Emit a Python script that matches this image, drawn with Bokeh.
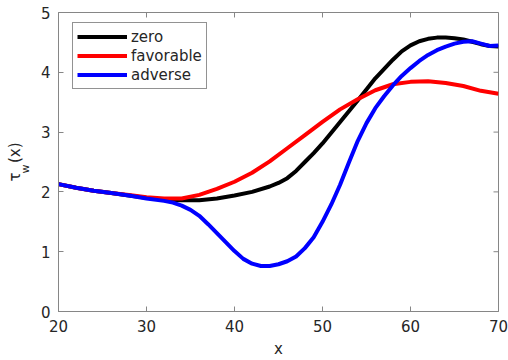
import numpy as np
from bokeh.plotting import figure
from bokeh.models import Range1d, Legend, LegendItem, LinearAxis, FixedTicker
from bokeh.embed import file_html
from bokeh.resources import INLINE

# ---- data ----
x_zero = [20, 22, 24, 26, 28, 30, 32, 34, 36, 38, 40, 42, 44, 45, 46, 47, 48, 49, 50, 52, 54, 56, 58, 59,
          60, 61, 62, 63, 64, 65, 66, 67, 68, 69, 70]
y_zero = [2.13, 2.07, 2.02, 1.98, 1.94, 1.90, 1.87, 1.86, 1.86, 1.89, 1.94, 2.00, 2.09, 2.15, 2.23, 2.35,
          2.50, 2.65, 2.81, 3.17, 3.53, 3.90, 4.21, 4.35, 4.45, 4.52, 4.56, 4.58, 4.58, 4.57, 4.55, 4.51,
          4.47, 4.44, 4.43]

x_fav = [20, 22, 24, 26, 28, 30, 32, 34, 36, 38, 40, 42, 44, 46, 48, 50, 52, 54, 56, 58, 60, 62, 64, 66, 68, 70]
y_fav = [2.13, 2.07, 2.02, 1.98, 1.95, 1.91, 1.89, 1.89, 1.95, 2.05, 2.17, 2.32, 2.51, 2.73, 2.95, 3.17,
         3.38, 3.55, 3.70, 3.80, 3.84, 3.85, 3.82, 3.77, 3.69, 3.64]

x_adv = [20, 22, 24, 26, 28, 30, 32, 33, 34, 35, 36, 37, 38, 39, 40, 41, 42, 43, 44, 45, 46, 47, 48, 49, 50,
         51, 52, 53, 54, 55, 56, 57, 58, 59, 60, 61, 62, 63, 64, 65, 66, 67, 68, 69, 70]
y_adv = [2.13, 2.07, 2.02, 1.98, 1.94, 1.89, 1.85, 1.82, 1.77, 1.70, 1.60, 1.46, 1.31, 1.16, 1.01, 0.88,
         0.80, 0.76, 0.76, 0.79, 0.84, 0.92, 1.06, 1.24, 1.50, 1.79, 2.12, 2.49, 2.85, 3.15, 3.40, 3.60,
         3.78, 3.94, 4.07, 4.19, 4.29, 4.37, 4.43, 4.48, 4.51, 4.52, 4.48, 4.44, 4.45]

series_names = ["zero", "favorable", "adverse"]
series_colors = ["#000000", "#ff0000", "#0000ff"]

x_ticks = [20, 30, 40, 50, 60, 70]
y_ticks = [0, 1, 2, 3, 4, 5]

NB = "\u00a0"
y_title_main = "τ" + NB * 2 + "(x)"   # tau ... (x)
y_title_sub = "w" + NB * 4             # subscript w
x_title = "x"

FONT = "DejaVu Sans"
AX = "#868686"
TXT = "#262626"

p = figure(width=508, height=360, output_backend="svg", toolbar_location=None,
           x_range=Range1d(20, 70), y_range=Range1d(0, 5),
           min_border_left=58, min_border_right=10, min_border_top=12, min_border_bottom=48)
p.grid.visible = False
p.outline_line_color = AX
p.background_fill_color = "white"
p.border_fill_color = "white"

for ax in [p.xaxis[0], p.yaxis[0]]:
    ax.major_tick_in = 5
    ax.major_tick_out = 0
    ax.minor_tick_in = 0
    ax.minor_tick_out = 0
    ax.axis_line_color = AX
    ax.major_tick_line_color = AX
    ax.major_label_text_font = FONT
    ax.major_label_text_font_size = "15px"
    ax.major_label_text_color = TXT
    ax.axis_label_text_font = FONT
    ax.axis_label_text_font_style = "normal"
    ax.axis_label_text_color = TXT
p.xaxis[0].ticker = FixedTicker(ticks=x_ticks)
p.yaxis[0].ticker = FixedTicker(ticks=y_ticks)
p.xaxis[0].major_label_standoff = 8
p.yaxis[0].major_label_standoff = 8
p.xaxis[0].axis_label = x_title
p.xaxis[0].axis_label_text_font_size = "15px"
p.xaxis[0].axis_label_standoff = 5
p.yaxis[0].axis_label = y_title_sub
p.yaxis[0].axis_label_text_font_size = "11px"
p.yaxis[0].axis_label_standoff = 6

# outer left axis carrying only the main part of the y title
y2 = LinearAxis(ticker=FixedTicker(ticks=[]), axis_line_color=None,
                major_tick_in=0, major_tick_out=0, minor_tick_in=0, minor_tick_out=0,
                major_label_standoff=0, axis_label=y_title_main,
                axis_label_text_font=FONT, axis_label_text_font_style="normal",
                axis_label_text_font_size="15px", axis_label_text_color=TXT,
                axis_label_standoff=-8)
p.add_layout(y2, "left")

# inner ticks on the top and right edges of the box
tick_len_y = 5 / 60.0
tick_len_x = 5 / 8.8
p.segment(x0=x_ticks, y0=[5] * len(x_ticks), x1=x_ticks, y1=[5 - tick_len_y] * len(x_ticks),
          line_color=AX, line_width=1)
p.segment(x0=[70] * len(y_ticks), y0=y_ticks, x1=[70 - tick_len_x] * len(y_ticks), y1=y_ticks,
          line_color=AX, line_width=1)

r_zero = p.line(x_zero, y_zero, line_color=series_colors[0], line_width=4, line_join="round")
r_fav = p.line(x_fav, y_fav, line_color=series_colors[1], line_width=4, line_join="round")
r_adv = p.line(x_adv, y_adv, line_color=series_colors[2], line_width=4, line_join="round")

legend = Legend(items=[LegendItem(label=series_names[0], renderers=[r_zero]),
                       LegendItem(label=series_names[1], renderers=[r_fav]),
                       LegendItem(label=series_names[2], renderers=[r_adv])],
                location=(14, 222), orientation="vertical")
legend.label_text_font = FONT
legend.label_text_font_size = "15px"
legend.label_text_color = TXT
legend.glyph_width = 50
legend.glyph_height = 19
legend.label_height = 19
legend.label_standoff = 4
legend.spacing = 0
legend.padding = 4
legend.margin = 0
legend.border_line_color = TXT
legend.border_line_width = 1
legend.background_fill_color = "white"
legend.background_fill_alpha = 1
p.add_layout(legend, "center")

open("out.html", "w").write(file_html(p, INLINE))
